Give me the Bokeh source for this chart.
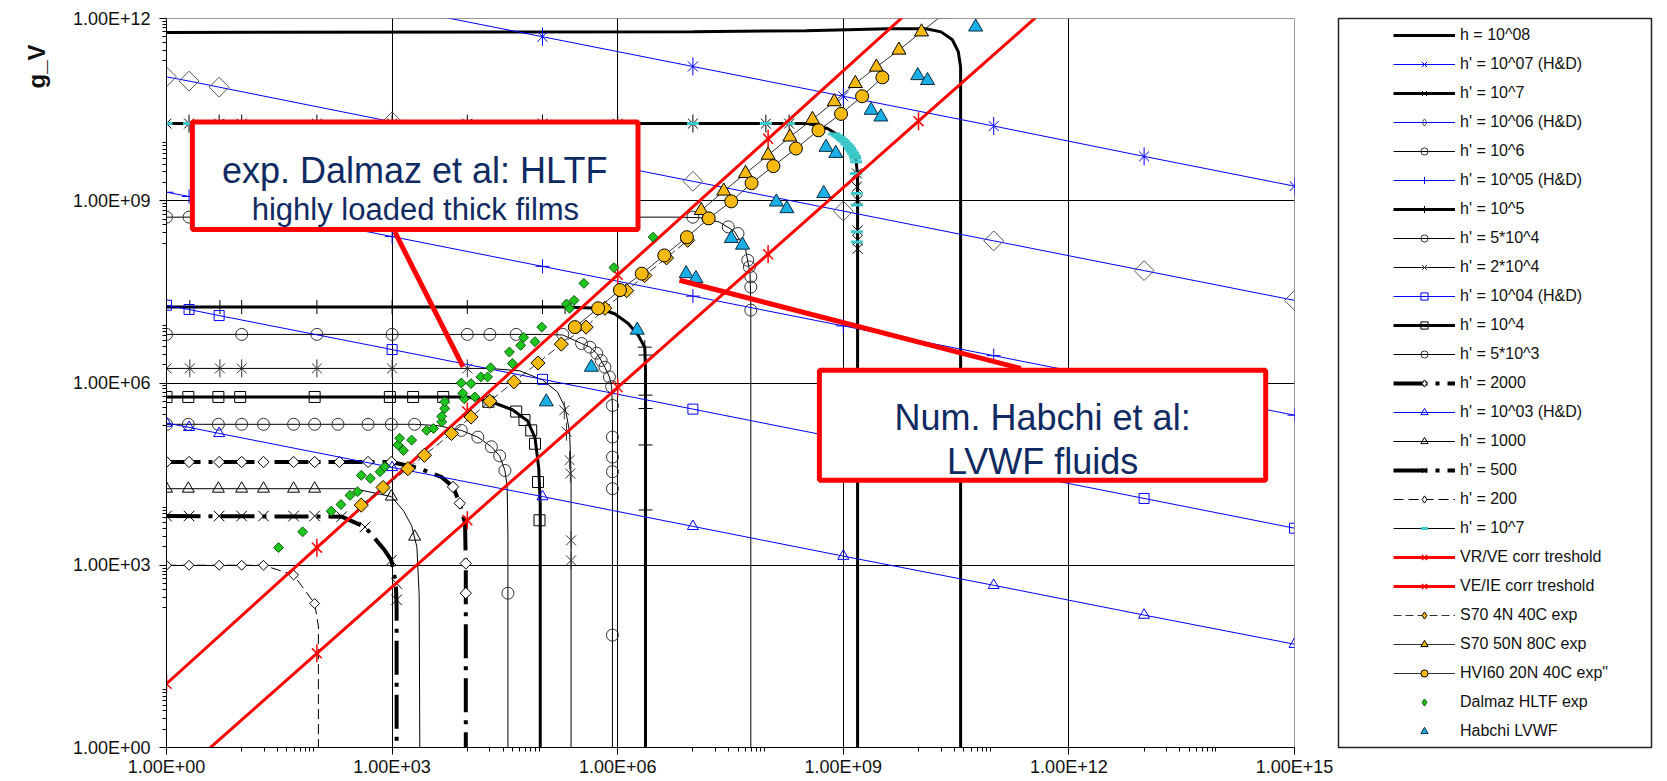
import math
from bokeh.plotting import figure
from bokeh.models import (Range1d, FixedTicker, CustomJSTickFormatter, Legend, LegendItem,
                          BoxAnnotation, Label, Title)
from bokeh.layouts import row
from bokeh.embed import file_html
from bokeh.resources import INLINE

# ---------------- axis ticks ----------------
x_major = [1e0, 1e3, 1e6, 1e9, 1e12, 1e15]
y_major = [1e0, 1e3, 1e6, 1e9, 1e12]
x_minor = [10.0 ** (3 * n + 1) * k for n in range(5) for k in range(1, 10)]
y_minor = ([10.0 ** (3 * n) * k for n in range(4) for k in range(2, 10)] +
           [10.0 ** (3 * n + 2) * k for n in range(4) for k in range(2, 10)])

# ---------------- data (log10 of x and g_V) ----------------
# H&D straight lines (blue)
hd7_x = [0, 3, 5, 7, 9, 11, 13, 15]
hd7_y = [12.92, 12.19, 11.70, 11.21, 10.72, 10.23, 9.73, 9.24]
hd_x = [0, 0.3, 0.7, 3, 5, 7, 9, 11, 13, 15]
hd6_y = [11.04, 10.97, 10.87, 10.30, 9.81, 9.32, 8.83, 8.34, 7.85, 7.36]
hd5_y = [9.14, 9.07, 8.97, 8.41, 7.92, 7.43, 6.94, 6.45, 5.96, 5.47]
hd4_y = [7.28, 7.21, 7.11, 6.55, 6.06, 5.57, 5.08, 4.59, 4.10, 3.61]
hd3_y = [5.34, 5.27, 5.17, 4.61, 4.13, 3.64, 3.15, 2.67, 2.18, 1.70]

# h = 10^08
h8_lx = [0, 7.0, 8.5, 9.6, 10.1, 10.3, 10.45, 10.53, 10.56, 10.56]
h8_ly = [11.77, 11.78, 11.80, 11.83, 11.83, 11.78, 11.65, 11.45, 11.2, -0.5]
# h' = 10^7
h7_lx = [0, 8.53, 8.79, 8.97, 9.10, 9.17, 9.19, 9.19]
h7_ly = [10.27, 10.27, 10.19, 10.05, 9.88, 9.67, 9.4, -0.5]
h7_mx = [0, 0.3, 0.7, 1, 2, 3, 4, 5, 6, 7, 7.97, 8.28, 9.18, 9.18, 9.19, 9.19, 9.19, 9.19]
h7_my = [10.27] * 12 + [9.45, 9.23, 9.01, 8.51, 8.35, 8.21]
# h' = 10^7 (cyan markers)
h7c_mx = ([0, 0.3, 0.7, 1, 2, 3, 4, 5, 6, 7, 7.97, 8.28] +
          [8.88, 8.92, 8.95, 8.98, 9.01, 9.04, 9.07, 9.09, 9.11, 9.13, 9.15, 9.16] +
          [9.17, 9.17, 9.18, 9.18, 9.18, 9.18])
h7c_my = ([10.27] * 12 +
          [10.10, 10.07, 10.04, 10.01, 9.98, 9.94, 9.90, 9.86, 9.82, 9.78, 9.74, 9.70] +
          [9.64, 9.45, 9.12, 8.93, 8.49, 8.32])
# h' = 10^6
h6_lx = [0, 6.8, 7.1, 7.35, 7.55, 7.7, 7.76, 7.77, 7.77]
h6_ly = [8.73, 8.73, 8.72, 8.65, 8.5, 8.2, 7.8, 7.3, -0.5]
h6_mx = [0, 0.3, 0.7, 1, 2, 3, 4, 5, 6, 7.0, 7.2, 7.47, 7.6, 7.73, 7.75, 7.77, 7.77, 7.77]
h6_my = [8.73] * 10 + [8.71, 8.57, 8.46, 8.02, 7.91, 7.75, 7.58, 7.2]
# h' = 10^5
h5_lx = [0, 5.3, 5.74, 5.96, 6.14, 6.27, 6.36, 6.37, 6.37]
h5_ly = [7.25, 7.25, 7.23, 7.14, 6.98, 6.79, 6.59, 6.2, -0.5]
h5_mx = [0, 0.31, 0.71, 1.0, 2.0, 3.0, 4.0, 5.0, 5.3, 6.36, 6.37, 6.37, 6.37, 6.37, 6.37]
h5_my = [7.25] * 9 + [6.59, 6.46, 5.80, 5.58, 4.98, 3.91]
# h' = 5*10^4
h54_lx = [0, 5.0, 5.27, 5.52, 5.63, 5.72, 5.78, 5.83, 5.89, 5.92, 5.93, 5.93]
h54_ly = [6.80, 6.80, 6.79, 6.65, 6.59, 6.49, 6.37, 6.26, 6.10, 5.94, 5.6, -0.5]
h54_mx = [0, 1, 2, 3, 4, 4.3, 4.65, 5.27, 5.52, 5.63, 5.72, 5.78, 5.83, 5.89, 5.92,
          5.93, 5.93, 5.93, 5.93, 5.93, 5.93]
h54_my = [6.80] * 8 + [6.65, 6.59, 6.49, 6.37, 6.26, 6.10, 5.94, 5.63, 5.11, 4.78, 4.54, 4.26, 1.85]
# h' = 2*10^4
h24_lx = [0, 4.3, 4.7, 5.0, 5.2, 5.3, 5.36, 5.38, 5.38]
h24_ly = [6.24, 6.24, 6.2, 6.05, 5.85, 5.6, 5.2, 4.5, -0.5]
h24_mx = [0, 0.31, 0.71, 1, 2, 3, 4, 5.29, 5.32, 5.36, 5.37, 5.38, 5.38]
h24_my = [6.24] * 7 + [5.55, 5.2, 4.73, 4.51, 3.41, 3.08]
# h' = 10^4
h4_lx = [0, 4.0, 4.3, 4.6, 4.8, 4.9, 4.95, 4.97, 4.97]
h4_ly = [5.77, 5.77, 5.70, 5.56, 5.38, 5.1, 4.6, 4.0, -0.5]
h4_mx = [0, 0.29, 0.69, 0.98, 1.97, 2.97, 3.28, 3.68, 4.28, 4.65, 4.76, 4.85, 4.90, 4.94, 4.96]
h4_my = [5.77] * 8 + [5.69, 5.53, 5.39, 5.22, 5.0, 4.37, 3.74]
# h' = 5*10^3
h53_lx = [0, 3.3, 3.6, 3.92, 4.14, 4.32, 4.43, 4.50, 4.53, 4.54, 4.54]
h53_ly = [5.32, 5.32, 5.30, 5.22, 5.11, 4.95, 4.8, 4.56, 4.3, 3.5, -0.5]
h53_mx = [0, 0.29, 0.69, 1.0, 1.29, 1.69, 1.97, 2.28, 2.68, 2.99, 3.3, 3.92, 4.14, 4.32, 4.43, 4.50, 4.54]
h53_my = [5.32] * 11 + [5.22, 5.11, 4.95, 4.80, 4.56, 2.54]
# h' = 2000
h2k_lx = [0, 2.99, 3.35, 3.66, 3.81, 3.90, 3.97, 3.98, 3.98]
h2k_ly = [4.70, 4.70, 4.60, 4.45, 4.29, 4.02, 3.69, 3.0, -0.5]
h2k_mx = [0, 0.3, 0.7, 1.0, 1.29, 1.69, 1.97, 2.3, 2.68, 2.99, 3.81, 3.90, 3.98, 3.98]
h2k_my = [4.70] * 10 + [4.29, 4.02, 3.03, 2.54]
# h' = 1000
h1k_lx = [0, 2.5, 2.99, 3.15, 3.26, 3.33, 3.36, 3.37]
h1k_ly = [4.26, 4.26, 4.13, 3.9, 3.65, 3.3, 2.5, -0.5]
h1k_mx = [0, 0.29, 0.69, 1.0, 1.29, 1.69, 1.97, 2.99, 3.30]
h1k_my = [4.26] * 7 + [4.13, 3.47]
# h' = 500
h500_lx = [0, 2.33, 2.64, 2.90, 2.99, 3.05, 3.06, 3.06]
h500_ly = [3.81, 3.80, 3.63, 3.25, 3.08, 2.70, 2.3, -0.5]
h500_mx = [0, 0.3, 0.7, 1.0, 1.29, 1.69, 1.97, 2.33, 2.64, 2.99, 3.06, 3.06]
h500_my = [3.81] * 7 + [3.80, 3.63, 3.08, 2.70, 2.43]
# h' = 200
h200_lx = [0, 1.29, 1.69, 1.97, 2.02, 2.02]
h200_ly = [3.0, 3.0, 2.84, 2.37, 2.0, -0.5]
h200_mx = [0, 0.3, 0.7, 1.0, 1.29, 1.69, 1.97]
h200_my = [3.0, 3.0, 3.0, 3.0, 3.0, 2.84, 2.37]
# correlation thresholds
vr_x = [0, 2, 4, 6, 8, 10]
vr_y = [1.05, 3.29, 5.53, 7.78, 10.02, 12.26]
ve_x = [0, 2, 4, 6, 8, 10, 12]
ve_y = [-0.64, 1.55, 3.74, 5.93, 8.12, 10.31, 12.50]
# experiments
s70a_x = [2.59, 2.88, 3.21, 3.43, 3.79, 4.05, 4.30, 4.62, 4.94, 5.25, 5.58, 5.83, 6.12, 6.36, 6.65, 6.93]
s70a_y = [3.99, 4.28, 4.59, 4.81, 5.17, 5.44, 5.70, 6.02, 6.33, 6.64, 6.92, 7.23, 7.52, 7.77, 8.06, 8.35]
s70b_x = [7.11, 7.41, 7.70, 8.00, 8.29, 8.59, 8.88, 9.16, 9.44, 9.74, 10.04, 10.34]
s70b_y = [8.84, 9.16, 9.45, 9.75, 10.05, 10.34, 10.63, 10.93, 11.20, 11.48, 11.78, 12.08]
hvi_x = [5.43, 5.74, 6.03, 6.32, 6.62, 6.92, 7.21, 7.51, 7.78, 8.07, 8.37, 8.67, 8.97, 9.25, 9.52]
hvi_y = [6.92, 7.23, 7.53, 7.80, 8.10, 8.40, 8.71, 8.99, 9.29, 9.57, 9.86, 10.16, 10.43, 10.72, 11.03]
dal_x = [1.49, 1.81, 2.19, 2.32, 2.44, 2.54, 2.59, 2.71, 2.84, 2.90, 3.08, 3.15, 3.10, 3.26,
         3.46, 3.55, 3.66, 3.66, 3.70, 3.70, 3.96, 4.10, 3.94, 3.92, 4.05, 4.18, 4.27, 4.31,
         4.56, 4.60, 4.71, 4.75, 4.90, 4.99, 5.32, 5.36, 5.42, 5.55, 5.95, 6.47]
dal_y = [3.29, 3.55, 3.89, 4.00, 4.15, 4.21, 4.48, 4.43, 4.54, 4.62, 4.98, 4.89, 5.09, 5.06,
         5.22, 5.25, 5.36, 5.45, 5.58, 5.69, 5.74, 5.77, 5.83, 6.00, 5.99, 6.10, 6.10, 6.25,
         6.51, 6.32, 6.62, 6.75, 6.68, 6.92, 7.30, 7.23, 7.36, 7.64, 7.90, 8.40]
hab_x = [5.05, 5.65, 6.26, 6.91, 7.04, 7.51, 7.66, 8.11, 8.25, 8.74, 8.77, 8.90, 9.37, 9.50, 9.99, 10.12, 10.76]
hab_y = [5.69, 6.26, 6.87, 7.80, 7.72, 8.38, 8.27, 8.98, 8.87, 9.12, 9.88, 9.78, 10.49, 10.38, 11.06, 10.98, 11.86]

# annotations (log10 coordinates)
box1 = dict(left=0.344, right=6.27, bottom=8.526, top=10.296)
box2 = dict(left=8.682, right=14.617, bottom=4.40, top=6.21)
txt1 = [("exp. Dalmaz et al: HLTF", 3.30, 9.50, "36px"), ("highly loaded thick films", 3.31, 8.855, "31px")]
txt2 = [("Num. Habchi et al:", 11.65, 5.44, "36px"), ("LVWF fluids", 11.65, 4.70, "36px")]
conn = [(3.036, 8.486, 3.944, 6.264), (6.822, 7.691, 11.362, 6.238)]


def P(v):
    return [10.0 ** e for e in v]


BLACK = "#000000"; BLUE = "#0000FF"; RED = "#FF0000"; DGRAY = "#555555"; MGRAY = "#333333"
CYAN = "#3CC8C8"; ORANGE = "#F5B90F"; GREEN = "#1FC41F"; HABC = "#1AB0E6"
PI4 = math.pi / 4


def ast(color, size=18, lw=1.0):
    return [dict(marker="x", size=size * 0.78, line_color=color, line_width=lw),
            dict(marker="dash", angle=math.pi / 2, size=size, line_color=color, line_width=lw)]


def mk(marker, size, line_color=BLACK, fill_color=None, lw=1.0, angle=0.0):
    return [dict(marker=marker, size=size, line_color=line_color, fill_color=fill_color,
                 line_width=lw, angle=angle)]


BL = dict(line_color=BLUE, line_width=1)
THIN = dict(line_color=BLACK, line_width=1)
THICK = dict(line_color=BLACK, line_width=3)
DASHDOT = dict(line_color=BLACK, line_width=4, line_dash="34 8 4 8")
REDL = dict(line_color=RED, line_width=3)
EXPL = dict(line_color=MGRAY, line_width=1)

series = [
    dict(label="h = 10^08", lx=h8_lx, ly=h8_ly, line=THICK),
    dict(label="h' = 10^07 (H&D)", lx=hd7_x, ly=hd7_y, line=BL, mx=hd7_x, my=hd7_y, mk=ast(BLUE)),
    dict(label="h' = 10^7", lx=h7_lx, ly=h7_ly, line=THICK, mx=h7_mx, my=h7_my, mk=ast(BLACK)),
    dict(label="h' = 10^06 (H&D)", lx=hd_x, ly=hd6_y, line=BL, mx=hd_x, my=hd6_y,
         mk=mk("square", 14, DGRAY, None, 1, PI4)),
    dict(label="h' = 10^6", lx=h6_lx, ly=h6_ly, line=THIN, mx=h6_mx, my=h6_my, mk=mk("circle", 12, MGRAY)),
    dict(label="h' = 10^05 (H&D)", lx=hd_x, ly=hd5_y, line=BL, mx=hd_x, my=hd5_y, mk=mk("cross", 14, BLUE)),
    dict(label="h' = 10^5", lx=h5_lx, ly=h5_ly, line=THICK, mx=h5_mx, my=h5_my, mk=mk("cross", 14, BLACK)),
    dict(label="h' = 5*10^4", lx=h54_lx, ly=h54_ly, line=THIN, mx=h54_mx, my=h54_my, mk=mk("circle", 12, MGRAY)),
    dict(label="h' = 2*10^4", lx=h24_lx, ly=h24_ly, line=THIN, mx=h24_mx, my=h24_my, mk=ast(MGRAY)),
    dict(label="h' = 10^04 (H&D)", lx=hd_x, ly=hd4_y, line=BL, mx=hd_x, my=hd4_y, mk=mk("square", 10, BLUE)),
    dict(label="h' = 10^4", lx=h4_lx, ly=h4_ly, line=THICK, mx=h4_mx, my=h4_my, mk=mk("square", 11, BLACK)),
    dict(label="h' = 5*10^3", lx=h53_lx, ly=h53_ly, line=THIN, mx=h53_mx, my=h53_my, mk=mk("circle", 12, MGRAY)),
    dict(label="h' = 2000", lx=h2k_lx, ly=h2k_ly, line=DASHDOT, mx=h2k_mx, my=h2k_my,
         mk=mk("square", 8, BLACK, "white", 1, PI4)),
    dict(label="h' = 10^03 (H&D)", lx=hd_x, ly=hd3_y, line=BL, mx=hd_x, my=hd3_y, mk=mk("triangle", 11, BLUE)),
    dict(label="h' = 1000", lx=h1k_lx, ly=h1k_ly, line=THIN, mx=h1k_mx, my=h1k_my, mk=mk("triangle", 12, BLACK)),
    dict(label="h' = 500", lx=h500_lx, ly=h500_ly, line=DASHDOT, mx=h500_mx, my=h500_my, mk=mk("x", 15, BLACK)),
    dict(label="h' = 200", lx=h200_lx, ly=h200_ly, line=dict(line_color=BLACK, line_width=1, line_dash="10 5"),
         mx=h200_mx, my=h200_my, mk=mk("square", 7, BLACK, "white", 1, PI4)),
    dict(label="h' = 10^7", lx=h7_lx, ly=h7_ly, line=THIN, mx=h7c_mx, my=h7c_my, mk=mk("dash", 12, CYAN, None, 3)),
    dict(label="VR/VE corr treshold", lx=vr_x, ly=vr_y, line=REDL, mx=vr_x, my=vr_y, mk=ast(RED, 18, 1.5)),
    dict(label="VE/IE corr treshold", lx=ve_x, ly=ve_y, line=REDL, mx=ve_x, my=ve_y, mk=ast(RED, 18, 1.5)),
    dict(label="S70 4N 40C exp", lx=s70a_x, ly=s70a_y, line=dict(line_color=MGRAY, line_width=1, line_dash="8 4"),
         mx=s70a_x, my=s70a_y, mk=mk("square", 10, BLACK, ORANGE, 1, PI4)),
    dict(label="S70 50N 80C exp", lx=s70b_x, ly=s70b_y, line=EXPL, mx=s70b_x, my=s70b_y,
         mk=mk("triangle", 14, BLACK, ORANGE)),
    dict(label='HVI60 20N 40C exp"', lx=hvi_x, ly=hvi_y, line=EXPL, mx=hvi_x, my=hvi_y,
         mk=mk("circle", 13, BLACK, ORANGE)),
    dict(label="Dalmaz HLTF exp", mx=dal_x, my=dal_y, mk=mk("square", 7, "#0B5A0B", GREEN, 1, PI4)),
    dict(label="Habchi LVWF", mx=hab_x, my=hab_y, mk=mk("triangle", 14, "#0A2A40", HABC)),
]

FONT = "Liberation Sans"

# ---------------- main figure ----------------
p = figure(width=1337, height=781, x_axis_type="log", y_axis_type="log",
           x_range=Range1d(1, 1e15), y_range=Range1d(1, 1e12),
           output_backend="svg", toolbar_location=None,
           min_border_left=165, min_border_right=43, min_border_top=18, min_border_bottom=34)
p.outline_line_color = "#999999"
p.background_fill_color = "white"

xt = FixedTicker(ticks=x_major, minor_ticks=x_minor)
yt = FixedTicker(ticks=y_major, minor_ticks=y_minor)
p.xaxis.ticker = xt
p.yaxis.ticker = yt
fmt = CustomJSTickFormatter(code="""
const e = Math.round(Math.log10(tick));
return "1.00E+" + (e < 10 ? "0" + e : String(e));
""")
for ax in (p.xaxis[0], p.yaxis[0]):
    ax.formatter = fmt
    ax.axis_line_color = BLACK
    ax.major_tick_line_color = BLACK
    ax.minor_tick_line_color = BLACK
    ax.major_tick_out = 7
    ax.major_tick_in = 0
    ax.minor_tick_out = 4
    ax.minor_tick_in = 0
    ax.major_label_text_font = FONT
    ax.major_label_text_font_size = "18px"
    ax.major_label_text_color = "#111111"
p.xaxis.major_label_standoff = 2
p.yaxis.major_label_standoff = 9
p.xgrid.grid_line_color = BLACK
p.ygrid.grid_line_color = BLACK
p.xgrid.grid_line_width = 1
p.ygrid.grid_line_width = 1
p.xgrid.ticker = xt
p.ygrid.ticker = yt

p.add_layout(Title(text="g_V", align="right", text_font=FONT, text_font_style="bold",
                   text_font_size="24px", text_color="#111111", standoff=40, offset=26), "left")


def draw(fig, s, dummy=False):
    rs = []
    if "line" in s:
        if dummy:
            xs, ys = [-5.0], [-5.0]
        else:
            xs, ys = P(s["lx"]), P(s["ly"])
        rs.append(fig.line(xs, ys, **s["line"]))
    if "mk" in s:
        if dummy:
            xs, ys = [-5.0], [-5.0]
        else:
            xs, ys = P(s["mx"]), P(s["my"])
        for m in s["mk"]:
            m = dict(m)
            if dummy and m["marker"] == "square" and m.get("angle", 0) != 0:
                m["marker"] = "diamond"
                m["angle"] = 0.0
            rs.append(fig.scatter(xs, ys, **m))
    return rs


for s in series:
    draw(p, s)

# connectors of the callouts
for (x0, y0, x1, y1) in conn:
    p.segment(x0=[10 ** x0], y0=[10 ** y0], x1=[10 ** x1], y1=[10 ** y1], line_color=RED, line_width=5)

for b, txts in ((box1, txt1), (box2, txt2)):
    p.add_layout(BoxAnnotation(left=10 ** b["left"], right=10 ** b["right"],
                               bottom=10 ** b["bottom"], top=10 ** b["top"],
                               fill_color="white", fill_alpha=1.0,
                               line_color=RED, line_alpha=1.0, line_width=5))
    for (t, tx, ty, fs) in txts:
        p.add_layout(Label(x=10 ** tx, y=10 ** ty, text=t, text_align="center", text_baseline="alphabetic",
                           text_font=FONT, text_font_size=fs, text_color="#102A62"))

# ---------------- legend panel ----------------
lf = figure(width=330, height=781, x_range=Range1d(0, 1), y_range=Range1d(0, 1),
            output_backend="svg", toolbar_location=None,
            min_border_left=1, min_border_right=16, min_border_top=18, min_border_bottom=28,
            x_axis_location=None, y_axis_location=None)
lf.grid.visible = False
lf.outline_line_color = "#222222"
lf.outline_line_width = 1.5

items = []
for s in series:
    items.append(LegendItem(label=s["label"], renderers=draw(lf, s, dummy=True)))

leg = Legend(items=items, location=(55, 7), orientation="vertical",
             border_line_alpha=0, background_fill_alpha=0, padding=0, margin=0,
             spacing=11, label_height=18, glyph_height=18, glyph_width=62, label_standoff=5,
             label_text_font=FONT, label_text_font_size="16px", label_text_color="#111111")
lf.add_layout(leg)

layout = row(p, lf)
open("out.html", "w").write(file_html(layout, INLINE))
